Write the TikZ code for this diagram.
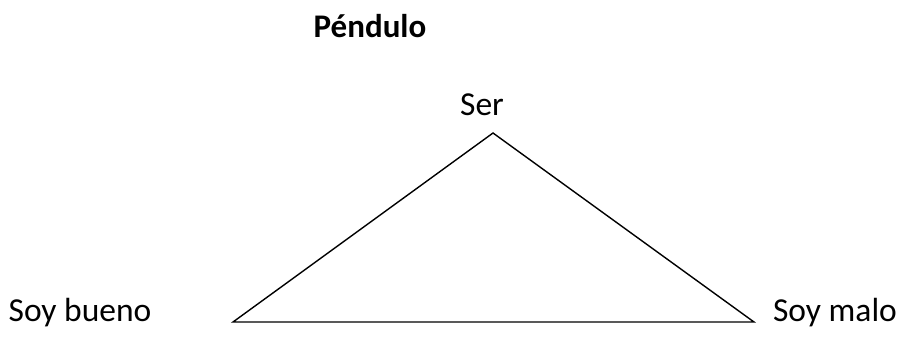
\documentclass[tikz,border=0pt]{standalone}
\usepackage{fontspec}
\setmainfont{Carlito}
\begin{document}
\begin{tikzpicture}[x=1pt,y=-1pt,
  lbl/.style={inner sep=0pt,font=\fontsize{33.5}{40}\selectfont},
  edge/.style={draw=black,line width=1.4pt,line join=miter}]
\useasboundingbox (0,0) rectangle (916,354);
\node[lbl,font=\fontsize{33}{40}\selectfont\bfseries,anchor=base] (title) at (370,37) {Péndulo};
\node[lbl,anchor=base] (ser) at (482,115) {Ser};
\node[lbl,anchor=base] (bueno) at (80,321) {Soy bueno};
\node[lbl,anchor=base] (malo) at (835,321) {Soy malo};
\coordinate (apex) at (493,133);
\coordinate (bl) at (233,322);
\coordinate (br) at (754,322);
\draw[edge] (apex) -- (br) -- (bl) -- cycle;
\end{tikzpicture}
\end{document}
